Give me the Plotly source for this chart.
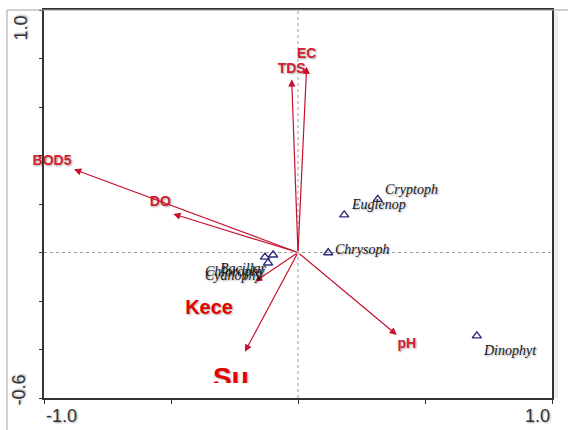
import plotly.graph_objects as go

# ---- data ----
env_names = ["EC", "TDS", "BOD5", "DO", "Kece", "Su", "pH"]
env_x = [0.034, -0.025, -0.882, -0.491, -0.169, -0.209, 0.389]
env_y = [0.766, 0.714, 0.343, 0.159, -0.120, -0.409, -0.340]

species_names = ["Cryptoph", "Euglenop", "Chrysoph", "Dinophyt", "Bacillar", "Chlorophy", "Cyanophy"]
species_x = [0.314, 0.182, 0.119, 0.704, -0.130, -0.098, -0.118]
species_y = [0.219, 0.155, -0.001, -0.344, -0.019, -0.010, -0.043]

x_tick_labels = ["-1.0", "1.0"]
y_tick_labels = ["1.0", "-0.6"]

# ---- styling / layout ----
W, H = 568, 430
ML, MR, MT, MB = 44, 16, 10, 32
XR = [-1.0, 1.0]
YR = [-0.6, 1.0]
pxx = (W - ML - MR) / (XR[1] - XR[0])
pxy = (H - MT - MB) / (YR[1] - YR[0])

ARROW_COL = "#c8102e"
LAB_COL = "#d42032"
BIG_COL = "#e60000"
SP_COL = "#2a2a7c"
SHADOW = "1px 1px 2px rgba(0,0,0,0.35)"

# label offsets in pixels (dx, dy up)
env_style = {
    "EC": dict(dx=0, dy=12, size=14, color=LAB_COL),
    "TDS": dict(dx=0, dy=10, size=14, color=LAB_COL),
    "BOD5": dict(dx=-22, dy=8, size=14, color=LAB_COL),
    "DO": dict(dx=-13, dy=11, size=14, color=LAB_COL),
    "Kece": dict(dx=-46, dy=-27, size=20, color=BIG_COL),
    "Su": dict(dx=-14, dy=-28, size=28, color=BIG_COL),
    "pH": dict(dx=10, dy=-10, size=14, color=LAB_COL),
}
sp_style = {
    "Cryptoph": dict(dx=5, dy=10, anchor="left"),
    "Euglenop": dict(dx=5, dy=10, anchor="left"),
    "Chrysoph": dict(dx=5, dy=3, anchor="left"),
    "Dinophyt": dict(dx=4, dy=-15, anchor="left"),
    "Bacillar": dict(dx=-22, dy=-11, anchor="center"),
    "Chlorophy": dict(dx=-70, dy=-17, anchor="left"),
    "Cyanophy": dict(dx=-65, dy=-13, anchor="left"),
}

fig = go.Figure()

annotations = []
# environmental arrows
for n, x, y in zip(env_names, env_x, env_y):
    annotations.append(dict(
        x=x, y=y, ax=0, ay=0, xref="x", yref="y", axref="x", ayref="y",
        text="", showarrow=True, arrowhead=2, arrowsize=1.2, arrowwidth=1.2,
        arrowcolor=ARROW_COL, standoff=0, startstandoff=0))

# env labels: drawn as text traces so that the clipped "Su" label can be masked
def label_trace(names, clip):
    lx, ly, lt, ls, lc = [], [], [], [], []
    for n, x, y in zip(env_names, env_x, env_y):
        if n not in names:
            continue
        st = env_style[n]
        lx.append(x + st["dx"] / pxx)
        ly.append(y + st["dy"] / pxy)
        lt.append(n)
        ls.append(st["size"])
        lc.append(st["color"])
    return go.Scatter(
        x=lx, y=ly, mode="text", text=lt,
        textfont=dict(family="Liberation Sans, Arial, sans-serif", size=ls, color=lc,
                      weight="bold", shadow=SHADOW),
        textposition="middle center", hoverinfo="skip", showlegend=False, cliponaxis=clip)

fig.add_trace(label_trace([n for n in env_names if n != "Su"], False))
fig.add_trace(label_trace(["Su"], True))

# species points
fig.add_trace(go.Scatter(
    x=species_x, y=species_y, mode="markers",
    marker=dict(symbol="triangle-up-open", size=8, color=SP_COL, line=dict(width=1.4, color=SP_COL)),
    hoverinfo="skip", showlegend=False))

for n, x, y in zip(species_names, species_x, species_y):
    st = sp_style[n]
    annotations.append(dict(
        x=x, y=y, xref="x", yref="y", text=n, showarrow=False,
        xanchor=st["anchor"], yanchor="middle", xshift=st["dx"], yshift=st["dy"],
        font=dict(family="Liberation Serif, Times New Roman, serif", size=14, color="#1a1a1a",
                  style="italic", shadow=SHADOW)))

# axis end labels
tick_font = dict(family="Liberation Sans, Arial, sans-serif", size=18, color="#333333", shadow=SHADOW)
annotations.append(dict(x=XR[0], y=0, xref="x", yref="paper", text=x_tick_labels[0], showarrow=False,
                        xanchor="left", yanchor="top", yshift=-6, font=tick_font))
annotations.append(dict(x=XR[1], y=0, xref="x", yref="paper", text=x_tick_labels[1], showarrow=False,
                        xanchor="right", yanchor="top", yshift=-6, font=tick_font))
annotations.append(dict(x=0, y=YR[1], xref="paper", yref="y", text=y_tick_labels[0], showarrow=False,
                        textangle=-90, xanchor="right", yanchor="top", xshift=-12, yshift=-4, font=tick_font))
annotations.append(dict(x=0, y=YR[0], xref="paper", yref="y", text=y_tick_labels[1], showarrow=False,
                        textangle=-90, xanchor="right", yanchor="bottom", xshift=-14, yshift=-10, font=tick_font))

shapes = [
    # zero lines
    dict(type="line", x0=0, x1=0, y0=0, y1=1, xref="x", yref="paper",
         line=dict(color="#9a9a9a", width=1, dash="dot"), layer="below"),
    dict(type="line", x0=0, x1=1, y0=0, y1=0, xref="paper", yref="y",
         line=dict(color="#9a9a9a", width=1, dash="dot"), layer="below"),
    # mask clipping bottom of the large "Su" label
    dict(type="rect", x0=-0.40, x1=-0.10, y0=-0.592, y1=-0.538, xref="x", yref="y",
         fillcolor="white", line=dict(width=0), layer="above"),
    # outer light frame
    dict(type="line", x0=-37 / (W - ML - MR), x1=-37 / (W - ML - MR), y0=1, y1=-MB / (H - MT - MB),
         xref="paper", yref="paper", line=dict(color="#a0a0a0", width=1)),
    dict(type="line", x0=-37 / (W - ML - MR), x1=1 + MR / (W - ML - MR), y0=1, y1=1,
         xref="paper", yref="paper", line=dict(color="#a0a0a0", width=1)),
    # faint shadow right of box
    dict(type="rect", x0=1.002, x1=1.012, y0=0, y1=0.995, xref="paper", yref="paper",
         fillcolor="rgba(0,0,0,0.07)", line=dict(width=0)),
]

fig.update_layout(
    width=W, height=H,
    margin=dict(l=ML, r=MR, t=MT, b=MB, autoexpand=False),
    paper_bgcolor="white", plot_bgcolor="white",
    showlegend=False,
    annotations=annotations,
    shapes=shapes,
    xaxis=dict(range=XR, showgrid=False, zeroline=False, showline=True, mirror=True,
               linecolor="#333333", linewidth=2, ticks="outside", ticklen=4, tickwidth=1,
               tickcolor="#333333", tickvals=[-1, -0.5, 0, 0.5, 1], showticklabels=False, fixedrange=True),
    yaxis=dict(range=YR, showgrid=False, zeroline=False, showline=True, mirror=True,
               linecolor="#333333", linewidth=2, ticks="outside", ticklen=3, tickwidth=1,
               tickcolor="#333333", tickvals=[-0.6, -0.4, -0.2, 0, 0.2, 0.4, 0.6, 0.8, 1.0],
               showticklabels=False, fixedrange=True),
)

fig.write_html("out.html", config={"displayModeBar": False},
               post_script="document.body.style.margin='0';document.body.style.overflow='hidden';")
